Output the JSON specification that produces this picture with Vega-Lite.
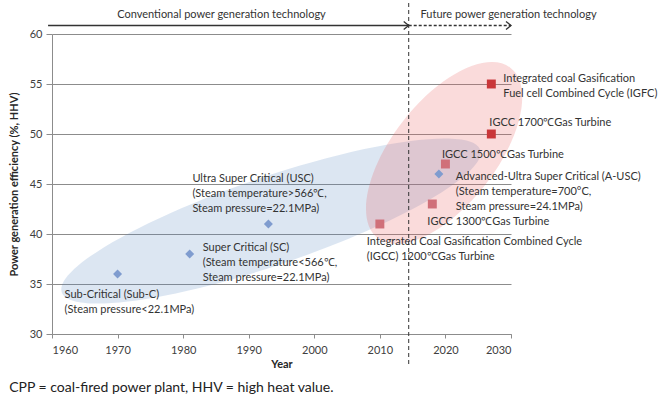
{
  "$schema": "https://vega.github.io/schema/vega-lite/v6.json",
  "width": 459,
  "height": 300,
  "autosize": {"type": "none"},
  "padding": {"left": 52, "top": 34, "right": 150, "bottom": 64},
  "background": "white",
  "config": {
    "font": "Lato",
    "view": {"stroke": null},
    "text": {"font": "Lato"},
    "title": {"font": "Lato"}
  },
  "title": {
    "text": "CPP = coal-fired power plant, HHV = high heat value.",
    "orient": "bottom",
    "anchor": "start",
    "frame": "bounds",
    "fontSize": 14,
    "fontWeight": "normal",
    "color": "#222222",
    "offset": 12,
    "dx": 1
  },
  "layer": [
    {
      "data": {"values": [{"cx": 1993.4, "cy": 41.3}]},
      "mark": {"type": "point", "shape": "M -221 0 A 221 44 0 1 0 221 0 A 221 44 0 1 0 -221 0 Z", "size": 4, "filled": true, "fill": "#4F81BD", "fillOpacity": 0.2, "strokeWidth": 0, "opacity": 1, "angle": 341.2},
      "encoding": {"x": {"field": "cx", "type": "quantitative"}, "y": {"field": "cy", "type": "quantitative"}}
    },
    {
      "data": {"values": [{"cx": 2019.8, "cy": 48.1}]},
      "mark": {"type": "point", "shape": "M -108 0 A 108 52 0 1 0 108 0 A 108 52 0 1 0 -108 0 Z", "size": 4, "filled": true, "fill": "#E85A5A", "fillOpacity": 0.22, "strokeWidth": 0, "opacity": 1, "angle": 308},
      "encoding": {"x": {"field": "cx", "type": "quantitative"}, "y": {"field": "cy", "type": "quantitative"}}
    },
    {
      "data": {
        "values": [
          {"name": "Sub-C", "year": 1970, "eff": 36, "group": "conventional"},
          {"name": "SC", "year": 1981, "eff": 38, "group": "conventional"},
          {"name": "USC", "year": 1993, "eff": 41, "group": "conventional"},
          {"name": "A-USC", "year": 2019, "eff": 46, "group": "conventional"},
          {"name": "IGCC1200", "year": 2010, "eff": 41, "group": "igcc"},
          {"name": "IGCC1300", "year": 2018, "eff": 43, "group": "igcc"},
          {"name": "IGCC1500", "year": 2020, "eff": 47, "group": "igcc"},
          {"name": "IGCC1700", "year": 2027, "eff": 50, "group": "advanced"},
          {"name": "IGFC", "year": 2027, "eff": 55, "group": "advanced"}
        ]
      },
      "encoding": {
        "x": {
          "field": "year", "type": "quantitative",
          "scale": {"domain": [1960, 2030], "nice": false, "zero": false},
          "axis": {
            "values": [1960, 1970, 1980, 1990, 2000, 2010, 2020, 2030],
            "format": "d", "grid": false,
            "domainColor": "#8c8c8c", "tickColor": "#8c8c8c", "tickSize": 4,
            "labelFontSize": 11, "labelColor": "#404040", "labelPadding": 6,
            "title": "Year", "titleFontSize": 11, "titleFontWeight": "bold",
            "titleColor": "#262626", "titlePadding": 3
          }
        },
        "y": {
          "field": "eff", "type": "quantitative",
          "scale": {"domain": [30, 60], "nice": false, "zero": false},
          "axis": {
            "values": [30, 35, 40, 45, 50, 55, 60],
            "grid": true, "gridColor": "#8c8c8c", "gridWidth": 1,
            "domainColor": "#8c8c8c", "tickColor": "#8c8c8c", "tickSize": 6,
            "labelFontSize": 11, "labelColor": "#404040", "labelPadding": 4,
            "title": "Power generation efficiency (%, HHV)",
            "titleFontSize": 11, "titleFontWeight": "bold",
            "titleColor": "#262626", "titlePadding": 10
          }
        }
      },
      "layer": [
        {
          "mark": {"type": "point", "filled": true, "opacity": 1, "size": 80},
          "encoding": {
            "shape": {"field": "group", "type": "nominal", "scale": {"domain": ["conventional", "igcc", "advanced"], "range": ["diamond", "square", "square"]}, "legend": null},
            "color": {"field": "group", "type": "nominal", "scale": {"domain": ["conventional", "igcc", "advanced"], "range": ["#7F9CCF", "#D07079", "#C9373A"]}, "legend": null}
          }
        },
        {
          "transform": [{"filter": "datum.name == 'Sub-C'"}],
          "mark": {"type": "text", "align": "left", "baseline": "top", "dx": -53, "dy": 15, "fontSize": 11, "lineHeight": 15, "color": "#333333", "lineBreak": "\n"},
          "encoding": {"text": {"value": "Sub-Critical (Sub-C)\n(Steam pressure<22.1MPa)"}}
        },
        {
          "transform": [{"filter": "datum.name == 'SC'"}],
          "mark": {"type": "text", "align": "left", "baseline": "top", "dx": 13, "dy": -12, "fontSize": 11, "lineHeight": 15, "color": "#333333", "lineBreak": "\n"},
          "encoding": {"text": {"value": "Super Critical (SC)\n(Steam temperature<566℃,\nSteam pressure=22.1MPa)"}}
        },
        {
          "transform": [{"filter": "datum.name == 'USC'"}],
          "mark": {"type": "text", "align": "left", "baseline": "top", "dx": -76, "dy": -51, "fontSize": 11, "lineHeight": 15, "color": "#333333", "lineBreak": "\n"},
          "encoding": {"text": {"value": "Ultra Super Critical (USC)\n(Steam temperature>566℃,\nSteam pressure=22.1MPa)"}}
        },
        {
          "transform": [{"filter": "datum.name == 'A-USC'"}],
          "mark": {"type": "text", "align": "left", "baseline": "top", "dx": 17, "dy": -3, "fontSize": 11, "lineHeight": 15, "color": "#333333", "lineBreak": "\n"},
          "encoding": {"text": {"value": "Advanced-Ultra Super Critical (A-USC)\n(Steam temperature=700°C,\n Steam pressure=24.1MPa)"}}
        },
        {
          "transform": [{"filter": "datum.name == 'IGCC1200'"}],
          "mark": {"type": "text", "align": "left", "baseline": "top", "dx": -13, "dy": 12, "fontSize": 11, "lineHeight": 15, "color": "#333333", "lineBreak": "\n"},
          "encoding": {"text": {"value": "Integrated Coal Gasification  Combined Cycle\n(IGCC) 1200℃Gas Turbine"}}
        },
        {
          "transform": [{"filter": "datum.name == 'IGCC1300'"}],
          "mark": {"type": "text", "align": "left", "baseline": "top", "dx": -5, "dy": 12, "fontSize": 11, "color": "#333333"},
          "encoding": {"text": {"value": "IGCC 1300℃Gas Turbine"}}
        },
        {
          "transform": [{"filter": "datum.name == 'IGCC1500'"}],
          "mark": {"type": "text", "align": "left", "baseline": "top", "dx": -3.5, "dy": -15, "fontSize": 11, "color": "#333333"},
          "encoding": {"text": {"value": "IGCC 1500℃Gas Turbine"}}
        },
        {
          "transform": [{"filter": "datum.name == 'IGCC1700'"}],
          "mark": {"type": "text", "align": "left", "baseline": "top", "dx": -2, "dy": -17, "fontSize": 11, "color": "#333333"},
          "encoding": {"text": {"value": "IGCC 1700℃Gas Turbine"}}
        },
        {
          "transform": [{"filter": "datum.name == 'IGFC'"}],
          "mark": {"type": "text", "align": "left", "baseline": "top", "dx": 12, "dy": -11, "fontSize": 11, "lineHeight": 14.5, "color": "#333333", "lineBreak": "\n"},
          "encoding": {"text": {"value": "Integrated coal Gasification\nFuel cell Combined Cycle (IGFC)"}}
        }
      ]
    },
    {
      "data": {"values": [{"xv": 2014.4, "ytop": 63.1, "ybot": 27}]},
      "mark": {"type": "rule", "color": "#333333", "strokeWidth": 1, "strokeDash": [4, 3]},
      "encoding": {"x": {"field": "xv", "type": "quantitative"}, "y": {"field": "ytop", "type": "quantitative"}, "y2": {"field": "ybot"}}
    },
    {
      "data": {"values": [{"x1": 1959.4, "x2": 2014.4, "yv": 60.85}]},
      "mark": {"type": "rule", "color": "#333333", "strokeWidth": 1.5},
      "encoding": {"x": {"field": "x1", "type": "quantitative"}, "x2": {"field": "x2"}, "y": {"field": "yv", "type": "quantitative"}}
    },
    {
      "data": {"values": [{"x1": 2014.4, "x2": 2030, "yv": 60.85}]},
      "mark": {"type": "rule", "color": "#333333", "strokeWidth": 1.5, "strokeDash": [3, 2]},
      "encoding": {"x": {"field": "x1", "type": "quantitative"}, "x2": {"field": "x2"}, "y": {"field": "yv", "type": "quantitative"}}
    },
    {
      "data": {"values": [{"pos": 2014.4, "yv": 60.85}, {"pos": 2030, "yv": 60.85}]},
      "mark": {"type": "point", "shape": "M -5 -4 L 0 0 L -5 4", "size": 4, "filled": false, "stroke": "#333333", "strokeWidth": 1.3, "opacity": 1},
      "encoding": {"x": {"field": "pos", "type": "quantitative"}, "y": {"field": "yv", "type": "quantitative"}}
    },
    {
      "data": {"values": [{"tx": 1985.85, "ty": 61.9, "label": "Conventional power generation technology"}]},
      "mark": {"type": "text", "align": "center", "baseline": "middle", "fontSize": 11, "color": "#333333"},
      "encoding": {"x": {"field": "tx", "type": "quantitative"}, "y": {"field": "ty", "type": "quantitative"}, "text": {"field": "label"}}
    },
    {
      "data": {"values": [{"tx": 2016.2, "ty": 61.9, "label": "Future power generation technology"}]},
      "mark": {"type": "text", "align": "left", "baseline": "middle", "fontSize": 11, "color": "#333333"},
      "encoding": {"x": {"field": "tx", "type": "quantitative"}, "y": {"field": "ty", "type": "quantitative"}, "text": {"field": "label"}}
    }
  ]
}
